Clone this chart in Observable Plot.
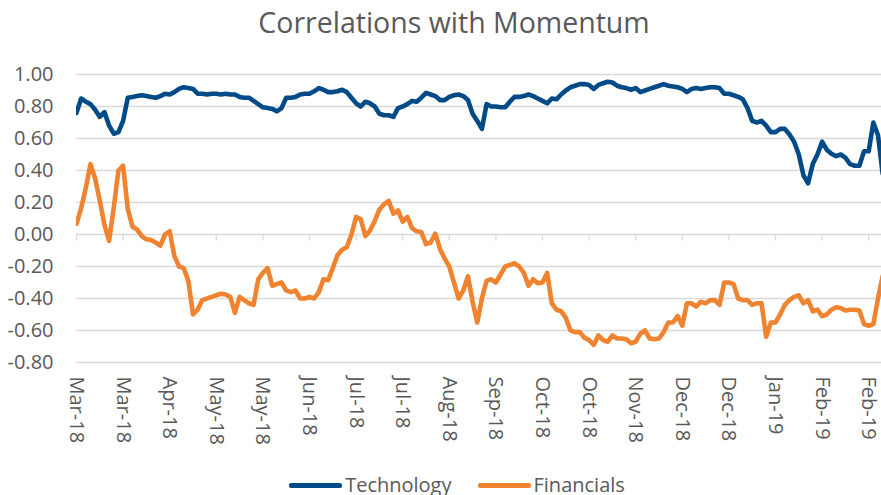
<!DOCTYPE html>
<html><head><meta charset="utf-8">
<script src="https://cdn.jsdelivr.net/npm/d3@7"></script>
<script src="https://cdn.jsdelivr.net/npm/@observablehq/plot@0.6"></script>
<style>
body{margin:0;background:#fff;font-family:"Open Sans",sans-serif;}
#wrap{position:relative;width:881px;height:495px;overflow:hidden;}
#title{position:absolute;top:0;left:0;width:908px;text-align:center;font-size:28.5px;color:#595959;line-height:44px;}
#chart{position:absolute;top:0;left:0;}
#legend{position:absolute;top:471px;left:0;width:914px;display:flex;justify-content:center;align-items:center;font-size:20px;color:#595959;line-height:28px;}
.item{display:flex;align-items:center;}
.sw{width:53px;height:5px;border-radius:2px;margin-right:3px;}
</style></head>
<body><div id="wrap"><div id="chart"></div><div id="title">Correlations with Momentum</div><div id="legend"></div></div>
<script>
const labels = ["Mar-18","Mar-18","Apr-18","May-18","May-18","Jun-18","Jul-18","Jul-18","Aug-18","Sep-18","Oct-18","Oct-18","Nov-18","Dec-18","Dec-18","Jan-19","Feb-19","Feb-19"];
const pointsPerLabel = 10;
const seriesNames = ["Technology","Financials"];
const seriesColors = ["#004b87","#f0832f"];
const yTicks = [-0.8,-0.6,-0.4,-0.2,0,0.2,0.4,0.6,0.8,1.0];
const technology = [
0.76,0.85,0.83,0.815,0.78,0.735,0.765,0.68,0.63,0.64,
0.71,0.855,0.86,0.865,0.87,0.865,0.86,0.855,0.865,0.88,
0.875,0.89,0.91,0.92,0.915,0.91,0.88,0.88,0.875,0.88,
0.88,0.875,0.88,0.875,0.875,0.86,0.855,0.855,0.835,0.815,
0.795,0.79,0.785,0.77,0.79,0.855,0.855,0.86,0.875,0.88,
0.88,0.895,0.915,0.905,0.89,0.89,0.895,0.905,0.89,0.855,
0.82,0.80,0.83,0.82,0.80,0.755,0.745,0.745,0.735,0.79,
0.80,0.815,0.835,0.83,0.855,0.885,0.875,0.865,0.84,0.84,
0.86,0.87,0.875,0.865,0.84,0.755,0.71,0.66,0.815,0.80,
0.80,0.795,0.795,0.83,0.86,0.86,0.865,0.875,0.865,0.85,
0.835,0.82,0.85,0.845,0.875,0.90,0.92,0.93,0.94,0.94,
0.935,0.91,0.935,0.945,0.955,0.95,0.93,0.92,0.915,0.905,
0.915,0.89,0.90,0.91,0.92,0.93,0.94,0.93,0.925,0.92,
0.91,0.89,0.91,0.915,0.91,0.915,0.92,0.92,0.915,0.88,
0.88,0.87,0.86,0.845,0.79,0.71,0.70,0.71,0.68,0.64,
0.64,0.66,0.66,0.625,0.58,0.50,0.37,0.32,0.44,0.50,
0.58,0.53,0.505,0.49,0.50,0.48,0.44,0.43,0.43,0.52,
0.52,0.70,0.62,0.38];
const financials = [
0.067,0.165,0.29,0.44,0.35,0.21,0.06,-0.04,0.17,0.40,
0.43,0.16,0.05,0.03,-0.01,-0.03,-0.035,-0.05,-0.07,0.0,
0.02,-0.135,-0.20,-0.21,-0.29,-0.50,-0.47,-0.41,-0.40,-0.39,
-0.38,-0.37,-0.375,-0.39,-0.49,-0.39,-0.41,-0.43,-0.44,-0.28,
-0.24,-0.21,-0.32,-0.31,-0.30,-0.35,-0.36,-0.35,-0.40,-0.40,
-0.39,-0.40,-0.36,-0.28,-0.285,-0.21,-0.13,-0.095,-0.08,0.0,
0.11,0.095,-0.01,0.025,0.085,0.155,0.19,0.21,0.13,0.15,
0.08,0.11,0.04,0.02,0.015,-0.06,-0.05,0.005,-0.09,-0.15,
-0.20,-0.30,-0.40,-0.35,-0.26,-0.42,-0.55,-0.40,-0.29,-0.28,
-0.30,-0.25,-0.20,-0.19,-0.18,-0.20,-0.24,-0.32,-0.28,-0.305,
-0.30,-0.24,-0.43,-0.47,-0.48,-0.52,-0.60,-0.61,-0.61,-0.645,
-0.66,-0.69,-0.63,-0.66,-0.67,-0.63,-0.65,-0.65,-0.655,-0.68,
-0.67,-0.62,-0.60,-0.65,-0.655,-0.65,-0.61,-0.55,-0.55,-0.51,
-0.57,-0.43,-0.43,-0.45,-0.42,-0.43,-0.41,-0.41,-0.44,-0.30,
-0.30,-0.31,-0.40,-0.41,-0.41,-0.44,-0.43,-0.43,-0.64,-0.55,
-0.55,-0.50,-0.44,-0.41,-0.39,-0.38,-0.43,-0.41,-0.48,-0.47,
-0.51,-0.50,-0.47,-0.455,-0.46,-0.475,-0.47,-0.47,-0.475,-0.56,
-0.57,-0.56,-0.40,-0.26];

const data = technology.map((v,i)=>({i, v, s:"Technology"}))
  .concat(financials.map((v,i)=>({i, v, s:"Financials"})));
const tickIdx = labels.map((_,k)=>k*pointsPerLabel);
const grid = "#d9d9d9", txt = "#595959";

const chart = Plot.plot({
  width: 881, height: 455,
  marginLeft: 76, marginRight: 0, marginTop: 74, marginBottom: 93,
  style: {fontFamily: "Open Sans, sans-serif", background: "transparent", overflow: "visible"},
  x: {domain: [0, 172.75], axis: null},
  y: {domain: [-0.8, 1.0], axis: null},
  color: {domain: seriesNames, range: seriesColors},
  marks: [
    Plot.ruleY(yTicks, {stroke: grid, strokeWidth: 1.3}),
    Plot.ruleX(tickIdx, {y1: 0, y2: -0.04, stroke: grid, strokeWidth: 1.3}),
    Plot.axisY(yTicks, {tickSize: 0, tickPadding: 23, fontSize: 20, fill: txt, tickFormat: d => d.toFixed(2), label: null}),
    Plot.axisX(tickIdx, {tickSize: 0, tickPadding: 14, fontSize: 20, fill: txt, tickRotate: 90, tickFormat: d => labels[Math.round(d / pointsPerLabel)], label: null}),
    Plot.line(data, {x: "i", y: "v", z: "s", stroke: "s", strokeWidth: 4.6, strokeLinejoin: "round", strokeLinecap: "round", clip: true})
  ]
});
document.getElementById("chart").appendChild(chart);

const lg = document.getElementById("legend");
seriesNames.forEach((n, k) => {
  const it = document.createElement("div");
  it.className = "item";
  if (k > 0) it.style.marginLeft = "26px";
  const sw = document.createElement("div");
  sw.className = "sw"; sw.style.background = seriesColors[k];
  const t = document.createElement("span"); t.textContent = n;
  it.appendChild(sw); it.appendChild(t); lg.appendChild(it);
});
</script></body></html>
